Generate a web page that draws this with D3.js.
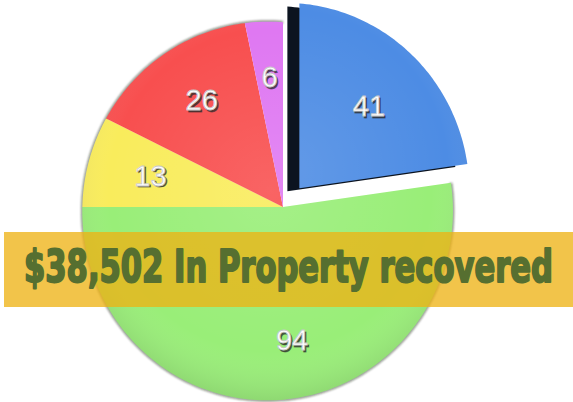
<!DOCTYPE html>
<html>
<head>
<meta charset="utf-8">
<script src="https://cdn.jsdelivr.net/npm/d3@7"></script>
<style>
  body { margin: 0; background: #fff; }
  svg { display: block; }
</style>
</head>
<body>
<svg width="573" height="402"></svg>
<script>
// slice values, clockwise from 12 o'clock
var labels = ["41", "94", "13", "26", "6"];
var values = [41, 94, 13, 26, 6];
var colors = ["#4d8ce4", "#99ee78", "#f9ec5c", "#f84f4f", "#df78f2"];
var title = "$38,502 In Property recovered";

var svg = d3.select("svg"),
    cx = 283, cy = 207, R = 184,
    g = 0.083, h = 0.021, sy = 1.025;   // rough perspective tilt

// pie plane -> screen
function proj(u, v) {
  var d = 1 + g * u / R - h * v / R;
  return [cx + u / d, cy + sy * v / d];
}

function slicePoints(a0, a1, r) {
  var pts = [proj(0, 0)], n = Math.max(8, Math.ceil((a1 - a0) / 0.02));
  for (var i = 0; i <= n; i++) {
    var a = a0 + (a1 - a0) * i / n;
    pts.push(proj(r * Math.sin(a), -r * Math.cos(a)));
  }
  return pts;
}

var pie = d3.pie().sort(null).value(function(d) { return d; });
var arcs = pie(values);
var line = d3.line().curve(d3.curveLinearClosed);

var defs = svg.append("defs");
var shade = defs.append("radialGradient").attr("id", "shade")
  .attr("gradientUnits", "userSpaceOnUse")
  .attr("cx", 270).attr("cy", 190).attr("r", 230);
shade.append("stop").attr("offset", "0").attr("stop-color", "#fff").attr("stop-opacity", 0.12);
shade.append("stop").attr("offset", "0.7").attr("stop-color", "#fff").attr("stop-opacity", 0);
shade.append("stop").attr("offset", "1").attr("stop-color", "#000").attr("stop-opacity", 0.18);
defs.append("filter").attr("id", "blur")
  .append("feGaussianBlur").attr("stdDeviation", 0.8);

var explode = 25;

// rim shadow on the outer edge
var rest = arcs.filter(function(d, i) { return i > 0; });
var rimPts = [];
(function() {
  var a0 = rest[0].startAngle, a1 = rest[rest.length - 1].endAngle, n = 200;
  for (var i = 0; i <= n; i++) {
    var a = a0 + (a1 - a0) * i / n;
    rimPts.push(proj(R * Math.sin(a), -R * Math.cos(a)));
  }
})();
svg.append("path")
  .attr("d", d3.line()(rimPts))
  .attr("fill", "none")
  .attr("stroke", "#1e2a14")
  .attr("stroke-width", 2.5)
  .attr("stroke-opacity", 0.55)
  .attr("filter", "url(#blur)");

var slices = svg.append("g");

arcs.forEach(function(d, i) {
  var pts = slicePoints(d.startAngle, d.endAngle, R);
  var dx = 0, dy = 0;
  if (i === 0) {
    var mid = (d.startAngle + d.endAngle) / 2;
    dx = explode * Math.sin(mid);
    dy = -explode * Math.cos(mid);
    // dark side wall of the pulled-out slice
    slices.append("path")
      .attr("d", line(pts))
      .attr("transform", "translate(" + (dx - 12) + "," + (dy + 3) + ")")
      .attr("fill", "#0c1420");
  }
  var gg = slices.append("g").attr("transform", "translate(" + dx + "," + dy + ")");
  gg.append("path").attr("d", line(pts)).attr("fill", colors[i]);
  gg.append("path").attr("d", line(pts)).attr("fill", "url(#shade)");
});

// value labels
var lab = svg.append("g")
  .attr("font-family", "Liberation Sans, Arial, sans-serif")
  .attr("font-size", 29)
  .attr("text-anchor", "middle")
  .attr("dominant-baseline", "central");

arcs.forEach(function(d, i) {
  var mid = (d.startAngle + d.endAngle) / 2,
      r = i === 0 ? 0.6 * R : 0.7 * R,
      p = proj(r * Math.sin(mid), -r * Math.cos(mid));
  if (i === 0) {
    p[0] += explode * Math.sin(mid);
    p[1] -= explode * Math.cos(mid);
  }
  lab.append("text").attr("x", p[0] + 1.5).attr("y", p[1] + 1.8)
    .attr("fill", "#2a2a2a").attr("fill-opacity", 0.75)
    .attr("stroke", "#2a2a2a").attr("stroke-opacity", 0.5).attr("stroke-width", 0.8)
    .text(labels[i]);
  lab.append("text").attr("x", p[0]).attr("y", p[1])
    .attr("fill", "#fff").attr("stroke", "#c8c8c8").attr("stroke-width", 0.8)
    .text(labels[i]);
});

// banner
svg.append("rect")
  .attr("x", 4).attr("y", 232)
  .attr("width", 569).attr("height", 75)
  .attr("fill", "#eeb214")
  .attr("fill-opacity", 0.77);

svg.append("text")
  .attr("transform", "translate(288.5,282) scale(1,1.25)")
  .attr("text-anchor", "middle")
  .attr("font-family", "Liberation Sans Narrow, DejaVu Sans Condensed, sans-serif")
  .attr("font-weight", "bold")
  .attr("font-size", 36)
  .attr("textLength", 529)
  .attr("lengthAdjust", "spacingAndGlyphs")
  .attr("fill", "#566f30")
  .attr("stroke", "#566f30")
  .attr("stroke-width", 1.6)
  .attr("stroke-linejoin", "round")
  .text(title);
</script>
</body>
</html>
